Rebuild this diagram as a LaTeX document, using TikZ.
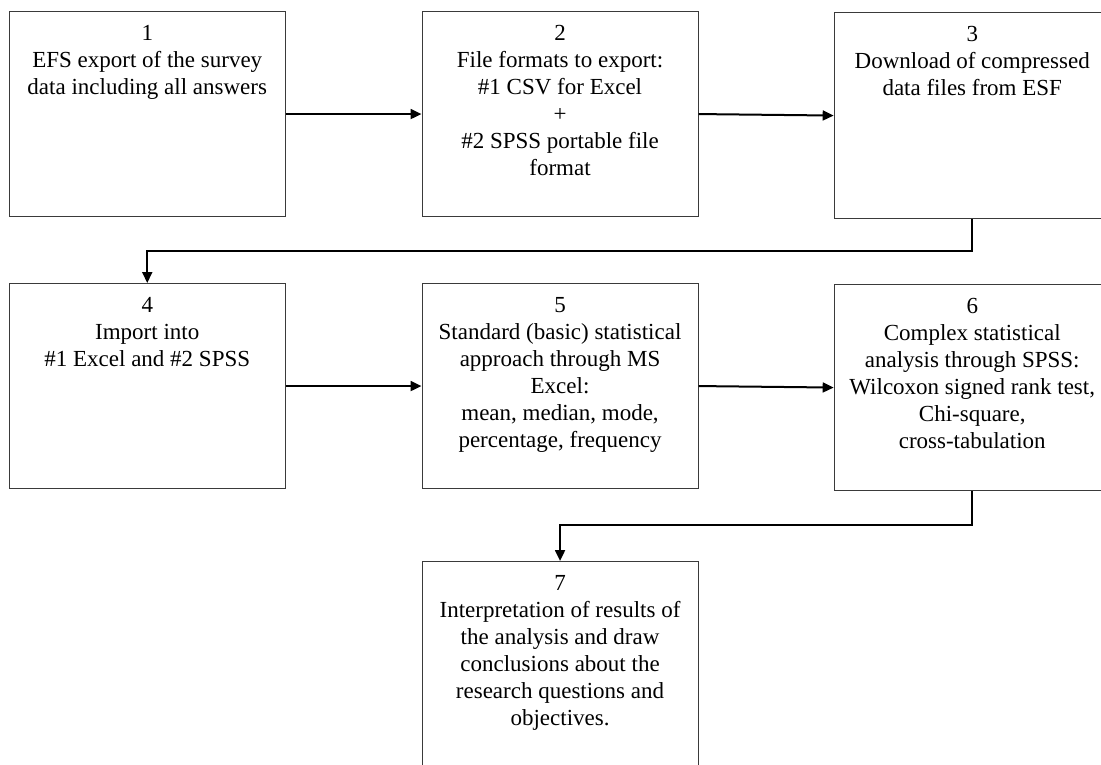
\documentclass[tikz,border=0pt]{standalone}
\usepackage{fontspec}
\setmainfont{Liberation Serif}
\usetikzlibrary{arrows.meta}
\definecolor{boxgray}{HTML}{3A3A3A}
\begin{document}
\begin{tikzpicture}[x=1pt,y=-1pt,
  stepbox/.style={draw=boxgray, line width=1.1pt, minimum width=276pt, minimum height=#1, inner sep=0pt, anchor=north west},
  lbl/.style={anchor=north, inner sep=0pt, align=center, font=\fontsize{23}{27}\selectfont},
  conn/.style={line width=2pt, -{Triangle[length=11pt,width=10pt]}}
]
\useasboundingbox (0,0) rectangle (1101,765);
\clip (0,0) rectangle (1101,765);
\fill[white] (0,0) rectangle (1101,765);

\node[stepbox=205pt] (b1) at (8.7,11) {};
\node[stepbox=205pt] (b2) at (421.5,11) {};
\node[stepbox=206pt] (b3) at (833.7,12) {};
\node[stepbox=205pt] (b4) at (8.7,283) {};
\node[stepbox=205pt] (b5) at (421.5,283) {};
\node[stepbox=206pt] (b6) at (833.7,284) {};
\node[stepbox=230pt] (b7) at (421.5,561) {};

\node[lbl] (t1) at ([yshift=-10pt]b1.north) {\strut 1\\EFS export of the survey\\data including all answers};
\node[lbl] (t2) at ([yshift=-10pt]b2.north) {\strut 2\\File formats to export:\\\#1 CSV for Excel\\+\\\#2 SPSS portable file\\format};
\node[lbl] (t3) at ([yshift=-10pt]b3.north) {\strut 3\\Download of compressed\\data files from ESF};
\node[lbl] (t4) at ([yshift=-10pt]b4.north) {\strut 4\\Import into\\\#1 Excel and \#2 SPSS};
\node[lbl] (t5) at ([yshift=-10pt]b5.north) {\strut 5\\Standard (basic) statistical\\approach through MS\\Excel:\\mean, median, mode,\\percentage, frequency};
\node[lbl] (t6) at ([yshift=-10pt]b6.north) {\strut 6\\Complex statistical\\analysis through SPSS:\\Wilcoxon signed rank test,\\Chi-square,\\cross-tabulation};
\node[lbl] (t7) at ([yshift=-10pt]b7.north) {\strut 7\\Interpretation of results of\\the analysis and draw\\conclusions about the\\research questions and\\objectives.};

\draw[conn] (b1.east) -- (b2.west);
\draw[conn] (b2.east) -- (b3.west);
\draw[conn] (b3.south) -- ++(0,32) -| (b4.north);
\draw[conn] (b4.east) -- (b5.west);
\draw[conn] (b5.east) -- (b6.west);
\draw[conn] (b6.south) -- ++(0,34) -| (b7.north);
\end{tikzpicture}
\end{document}
